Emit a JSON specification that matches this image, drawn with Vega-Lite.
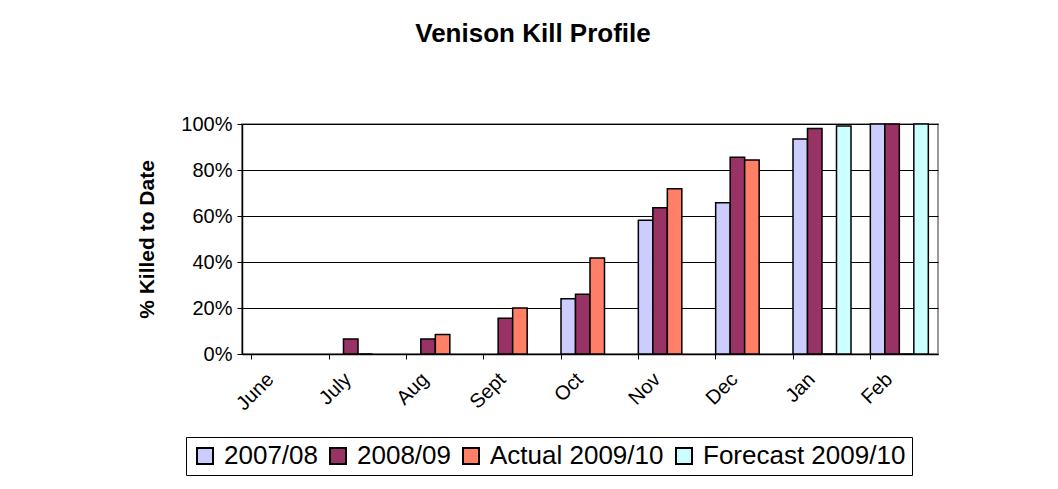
{
  "$schema": "https://vega.github.io/schema/vega-lite/v6.json",
  "width": 696,
  "height": 230,
  "autosize": {"type": "none"},
  "padding": {"left": 242, "top": 124, "right": 120, "bottom": 135},
  "background": "white",
  "title": {
    "text": "Venison Kill Profile",
    "fontSize": 26,
    "fontWeight": "bold",
    "font": "Liberation Sans",
    "color": "#000",
    "anchor": "middle",
    "frame": "group",
    "dx": -57,
    "offset": 67
  },
  "data": {
    "values": [
      {"month": "July", "series": "2008/09", "value": 0.065},
      {"month": "July", "series": "Actual 2009/10", "value": 0},
      {"month": "Aug", "series": "2008/09", "value": 0.065},
      {"month": "Aug", "series": "Actual 2009/10", "value": 0.085},
      {"month": "Sept", "series": "2008/09", "value": 0.155},
      {"month": "Sept", "series": "Actual 2009/10", "value": 0.2},
      {"month": "Oct", "series": "2007/08", "value": 0.24},
      {"month": "Oct", "series": "2008/09", "value": 0.26},
      {"month": "Oct", "series": "Actual 2009/10", "value": 0.417},
      {"month": "Nov", "series": "2007/08", "value": 0.582},
      {"month": "Nov", "series": "2008/09", "value": 0.636},
      {"month": "Nov", "series": "Actual 2009/10", "value": 0.719},
      {"month": "Dec", "series": "2007/08", "value": 0.658},
      {"month": "Dec", "series": "2008/09", "value": 0.855},
      {"month": "Dec", "series": "Actual 2009/10", "value": 0.843},
      {"month": "Jan", "series": "2007/08", "value": 0.935},
      {"month": "Jan", "series": "2008/09", "value": 0.98},
      {"month": "Jan", "series": "Actual 2009/10", "value": 0},
      {"month": "Jan", "series": "Forecast 2009/10", "value": 0.991},
      {"month": "Feb", "series": "2007/08", "value": 1.0},
      {"month": "Feb", "series": "2008/09", "value": 1.0},
      {"month": "Feb", "series": "Actual 2009/10", "value": 0},
      {"month": "Feb", "series": "Forecast 2009/10", "value": 1.0}
    ]
  },
  "mark": {"type": "bar", "stroke": "#000", "strokeWidth": 1.5},
  "encoding": {
    "x": {
      "field": "month",
      "type": "nominal",
      "scale": {
        "domain": ["June", "July", "Aug", "Sept", "Oct", "Nov", "Dec", "Jan", "Feb"],
        "paddingInner": 0.25,
        "paddingOuter": 0.125
      },
      "axis": {
        "title": null,
        "labelAngle": -45,
        "labelAlign": "right",
        "labelBaseline": "middle",
        "labelFontSize": 20,
        "labelFont": "Liberation Sans",
        "labelColor": "#000",
        "labelPadding": 17,
        "labelOffset": -10,
        "bandPosition": 0,
        "tickSize": 5,
        "tickColor": "#000",
        "domainColor": "#000",
        "domainWidth": 1.5
      }
    },
    "xOffset": {
      "field": "series",
      "type": "nominal",
      "scale": {"domain": ["2007/08", "2008/09", "Actual 2009/10", "Forecast 2009/10"], "padding": 0}
    },
    "y": {
      "field": "value",
      "type": "quantitative",
      "scale": {"domain": [0, 1], "nice": false},
      "axis": {
        "title": "% Killed to Date",
        "titleFont": "Liberation Sans",
        "titleFontSize": 21,
        "titleFontWeight": "bold",
        "titleColor": "#000",
        "titleAngle": 270,
        "titleX": -95,
        "titleY": 115,
        "titleAlign": "center",
        "titleBaseline": "middle",
        "values": [0, 0.2, 0.4, 0.6, 0.8, 1.0],
        "format": ".0%",
        "labelFont": "Liberation Sans",
        "labelFontSize": 20,
        "labelColor": "#000",
        "labelPadding": 5,
        "tickSize": 5,
        "tickColor": "#000",
        "domainColor": "#000",
        "domainWidth": 1.5,
        "grid": true,
        "gridColor": "#000",
        "gridWidth": 1
      }
    },
    "color": {
      "field": "series",
      "type": "nominal",
      "scale": {
        "domain": ["2007/08", "2008/09", "Actual 2009/10", "Forecast 2009/10"],
        "range": ["#ccccff", "#993366", "#ff8066", "#ccffff"]
      },
      "legend": {
        "title": null,
        "orient": "none",
        "legendX": -56,
        "legendY": 313,
        "direction": "horizontal",
        "columns": 4,
        "gridAlign": "none",
        "symbolType": "square",
        "symbolSize": 256,
        "symbolStrokeColor": "#000",
        "symbolStrokeWidth": 2,
        "labelFont": "Liberation Sans",
        "labelFontSize": 26,
        "labelColor": "#000",
        "labelLimit": 500,
        "labelOffset": 6,
        "columnPadding": 7,
        "padding": 6,
        "strokeColor": "#000",
        "fillColor": "#fff"
      }
    }
  },
  "config": {
    "view": {"stroke": "#999", "strokeWidth": 2}
  }
}
